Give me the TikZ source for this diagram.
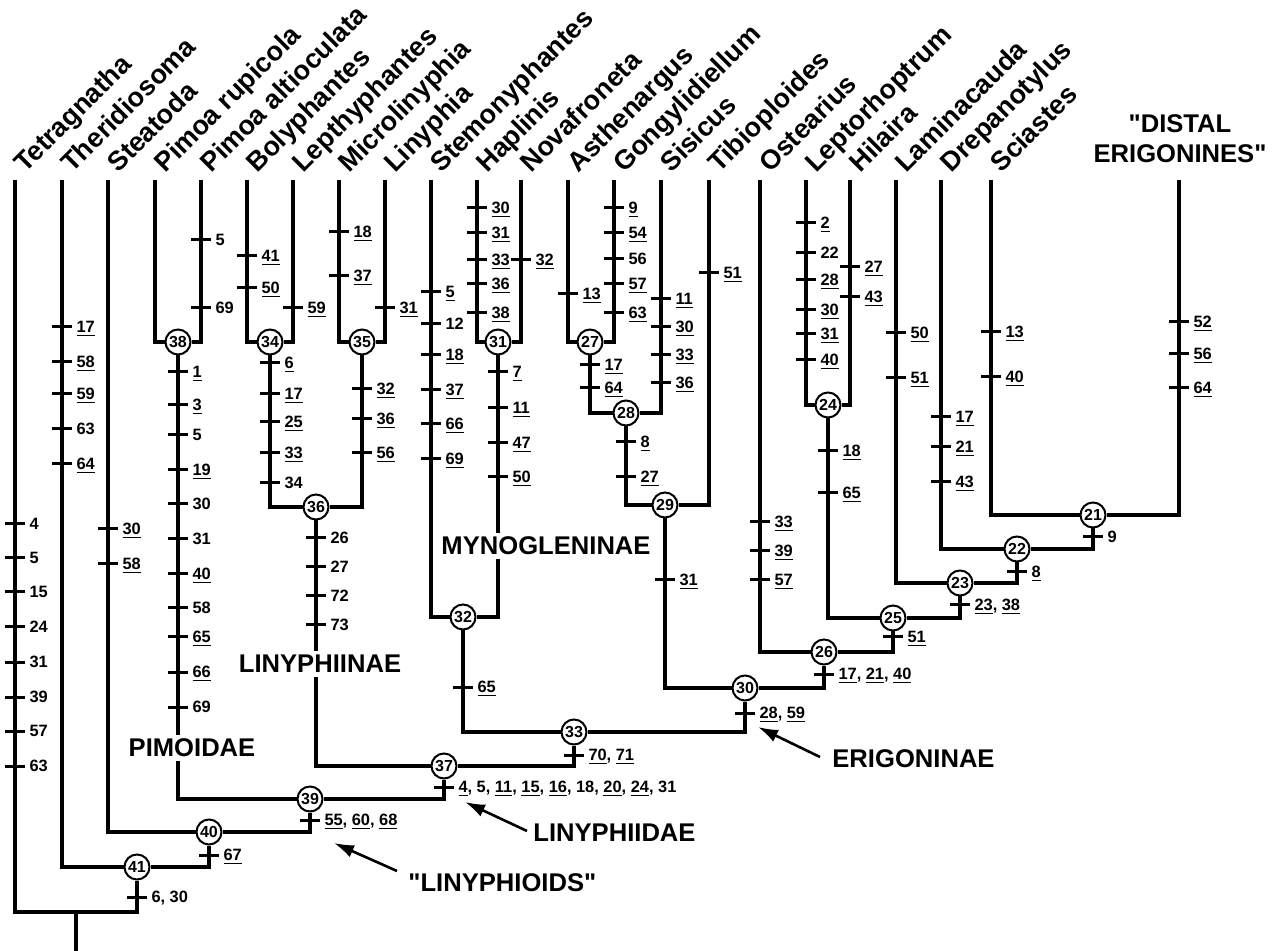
\documentclass[tikz,border=0pt]{standalone}
\usepackage{fontspec}
\setmainfont{Liberation Sans}
\usetikzlibrary{arrows.meta, backgrounds}

\newcommand{\nh}[1]{\underline{#1}}
% character tick with its number
\newcommand{\synap}[3]{%
  \draw[chartick] (#1-10,#2) -- (#1+10,#2) node[charlbl] (c-#1-#2) {#3};}

\begin{document}
\begin{tikzpicture}[x=0.5pt, y=-0.5pt,
  taxon/.style={rotate=45, anchor=base west, inner sep=0pt,
                font=\fontsize{13.5}{15}\selectfont\bfseries},
  clade/.style={circle, draw, fill=white, line width=1pt, minimum size=12.5pt,
                inner sep=0pt, font=\fontsize{8}{8}\selectfont\bfseries},
  branch/.style={line width=2pt},
  chartick/.style={line width=1.5pt},
  charlbl/.style={anchor=west, inner sep=1.5pt, text height=5.8pt, text depth=0pt,
                  font=\fontsize{8.2}{9}\selectfont\bfseries},
  group/.style={inner sep=2pt, font=\fontsize{12.8}{15}\selectfont\bfseries},
  pointer/.style={-{Latex[length=10pt, width=6.5pt]}, line width=1.3pt},
]
\useasboundingbox (0,0) rectangle (1285,951);

% Terminal taxa
\foreach \n/\x/\t in {tetra/15/Tetragnatha, theri/62/Theridiosoma, steat/108/Steatoda,
    pimru/155/Pimoa rupicola, pimal/201/Pimoa altioculata, bolyp/247/Bolyphantes,
    lepth/293/Lepthyphantes, micro/339/Microlinyphia, linyp/385/Linyphia,
    stemo/431/Stemonyphantes, hapli/477/Haplinis, novaf/521/Novafroneta,
    asthe/568/Asthenargus, gongy/614/Gongylidiellum, sisic/661/Sisicus,
    tibio/709/Tibioploides, ostea/760/Ostearius, lepto/806/Leptorhoptrum,
    hilai/850/Hilaira, lamin/896/Laminacauda, drepa/941/Drepanotylus,
    scias/991/Sciastes} {
  \coordinate (\n) at (\x,180);
  \node[taxon] (\n-name) at (\x+10,174) {\t};
}
\coordinate (distal) at (1179,180);
\node[group, align=center, anchor=south, inner sep=0pt] (distal-name) at (1180,163)
  {\textquotedbl DISTAL\\ERIGONINES\textquotedbl};

% Numbered nodes
\foreach \n/\x/\y in {21/1093/515, 22/1017/549, 23/960/583, 24/828/405, 25/893/618,
    26/824/652, 27/590/342, 28/626/413, 29/665/505, 30/745/688, 31/498/342,
    32/463/617, 33/574/732, 34/270/342, 35/362/342, 36/316/507, 37/444/766,
    38/178/342, 39/310/799, 40/209/832, 41/137/867}
  \node[clade] (n\n) at (\x,\y) {\n};
\coordinate (root) at (76,912);
\coordinate (base) at (76,951);

% Branches
\begin{scope}[on background layer]
\foreach \a/\b in {pimru/n38, pimal/n38, bolyp/n34, lepth/n34, micro/n35, linyp/n35,
    n34/n36, n35/n36, hapli/n31, novaf/n31, stemo/n32, n31/n32, asthe/n27, gongy/n27,
    n27/n28, sisic/n28, n28/n29, tibio/n29, lepto/n24, hilai/n24, scias/n21,
    distal/n21, n21/n22, drepa/n22, n22/n23, lamin/n23, n23/n25, n24/n25, n25/n26,
    ostea/n26, n26/n30, n29/n30, n30/n33, n32/n33, n33/n37, n36/n37, n37/n39,
    n38/n39, n39/n40, steat/n40, n40/n41, theri/n41, n41/root, tetra/root}
  \draw[branch] (\a) |- (\b);
\draw[branch] (root) -- (base);
\end{scope}

% Characters, outgroups
\foreach \y/\t in {524/4, 558/5, 592/15, 627/24, 662/31, 697/39, 731/57, 766/63}
  {\synap{15}{\y}{\t}}
\foreach \y/\t in {327/\nh{17}, 362/\nh{58}, 394/\nh{59}, 429/63, 464/\nh{64}}
  {\synap{62}{\y}{\t}}
\foreach \y/\t in {529/\nh{30}, 564/\nh{58}}
  {\synap{108}{\y}{\t}}

% Pimoa
\foreach \y/\t in {240/5, 308/69}
  {\synap{201}{\y}{\t}}
\foreach \y/\t in {372/\nh{1}, 405/\nh{3}, 435/5, 470/\nh{19}, 504/30, 539/31,
    574/\nh{40}, 608/58, 637/\nh{65}, 672/\nh{66}, 707/69}
  {\synap{178}{\y}{\t}}

% Linyphiinae
\foreach \y/\t in {256/\nh{41}, 288/\nh{50}}
  {\synap{247}{\y}{\t}}
\synap{293}{308}{\nh{59}}
\foreach \y/\t in {363/\nh{6}, 394/\nh{17}, 422/\nh{25}, 453/\nh{33}, 483/34}
  {\synap{270}{\y}{\t}}
\foreach \y/\t in {232/\nh{18}, 276/\nh{37}}
  {\synap{339}{\y}{\t}}
\synap{385}{308}{\nh{31}}
\foreach \y/\t in {389/\nh{32}, 419/\nh{36}, 453/\nh{56}}
  {\synap{362}{\y}{\t}}
\foreach \y/\t in {538/26, 567/27, 596/72, 625/73}
  {\synap{316}{\y}{\t}}

% Stemonyphantes, Mynogleninae
\foreach \y/\t in {292/\nh{5}, 324/12, 355/\nh{18}, 390/\nh{37}, 424/\nh{66}, 459/\nh{69}}
  {\synap{431}{\y}{\t}}
\foreach \y/\t in {208/\nh{30}, 233/\nh{31}, 260/\nh{33}, 284/\nh{36}, 313/\nh{38}}
  {\synap{477}{\y}{\t}}
\synap{521}{260}{\nh{32}}
\foreach \y/\t in {372/\nh{7}, 408/\nh{11}, 443/\nh{47}, 477/\nh{50}}
  {\synap{498}{\y}{\t}}
\synap{463}{687}{\nh{65}}

% Erigoninae
\synap{568}{294}{\nh{13}}
\foreach \y/\t in {208/\nh{9}, 233/\nh{54}, 259/56, 284/\nh{57}, 313/\nh{63}}
  {\synap{614}{\y}{\t}}
\foreach \y/\t in {365/\nh{17}, 388/\nh{64}}
  {\synap{590}{\y}{\t}}
\foreach \y/\t in {299/\nh{11}, 327/\nh{30}, 355/\nh{33}, 383/\nh{36}}
  {\synap{661}{\y}{\t}}
\foreach \y/\t in {442/\nh{8}, 477/\nh{27}}
  {\synap{626}{\y}{\t}}
\synap{709}{273}{\nh{51}}
\synap{665}{580}{\nh{31}}
\foreach \y/\t in {522/\nh{33}, 551/\nh{39}, 580/\nh{57}}
  {\synap{760}{\y}{\t}}
\foreach \y/\t in {223/\nh{2}, 253/22, 280/\nh{28}, 310/\nh{30}, 334/\nh{31}, 360/\nh{40}}
  {\synap{806}{\y}{\t}}
\foreach \y/\t in {267/\nh{27}, 297/\nh{43}}
  {\synap{850}{\y}{\t}}
\foreach \y/\t in {451/\nh{18}, 493/\nh{65}}
  {\synap{828}{\y}{\t}}
\foreach \y/\t in {333/\nh{50}, 378/\nh{51}}
  {\synap{896}{\y}{\t}}
\foreach \y/\t in {417/\nh{17}, 447/\nh{21}, 482/\nh{43}}
  {\synap{941}{\y}{\t}}
\foreach \y/\t in {332/\nh{13}, 377/\nh{40}}
  {\synap{991}{\y}{\t}}
\foreach \y/\t in {322/\nh{52}, 354/\nh{56}, 388/\nh{64}}
  {\synap{1179}{\y}{\t}}

% Characters below the nodes
\synap{1093}{537}{9}
\synap{1017}{572}{\nh{8}}
\synap{960}{605}{\nh{23}, \nh{38}}
\synap{893}{637}{\nh{51}}
\synap{824}{674}{\nh{17}, \nh{21}, \nh{40}}
\synap{745}{713}{\nh{28}, \nh{59}}
\synap{574}{755}{\nh{70}, \nh{71}}
\synap{444}{787}{\nh{4}, 5, \nh{11}, \nh{15}, \nh{16}, 18, \nh{20}, \nh{24}, 31}
\synap{310}{820}{\nh{55}, \nh{60}, \nh{68}}
\synap{209}{855}{\nh{67}}
\synap{137}{897}{6, 30}

% Group names
\node[group, fill=white] (pimoidae) at (192,748) {PIMOIDAE};
\node[group, fill=white] (linyphiinae) at (320,664) {LINYPHIINAE};
\node[group, fill=white] (mynogleninae) at (546,546) {MYNOGLENINAE};

\coordinate (erig-tip) at (758,727);
\coordinate (liny-tip) at (465,802);
\coordinate (lnds-tip) at (334,843);
\node[group, anchor=west] (erigoninae) at (828,759) {ERIGONINAE};
\node[group, anchor=west] (linyphiidae) at (529,833) {LINYPHIIDAE};
\node[group, anchor=west] (linyphioids) at (404,883)
  {\textquotedbl LINYPHIOIDS\textquotedbl};
\draw[pointer] (erigoninae.west) ++(-8,-2) -- (erig-tip);
\draw[pointer] (linyphiidae.west) ++(-2,-2) -- (liny-tip);
\draw[pointer] (linyphioids.west) ++(-7,-12) -- (lnds-tip);

\end{tikzpicture}
\end{document}
